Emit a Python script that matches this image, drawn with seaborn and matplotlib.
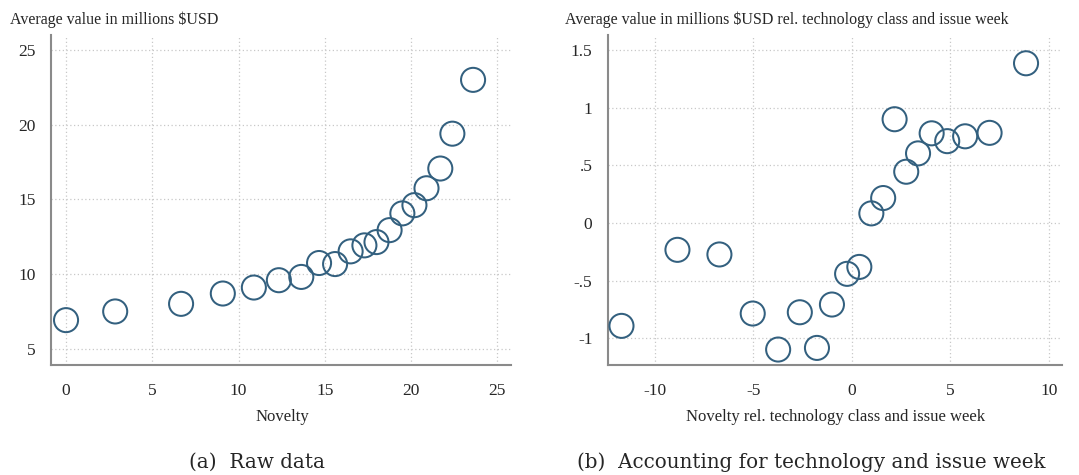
import numpy as np
import pandas as pd
import matplotlib
matplotlib.use('Agg')
import matplotlib.pyplot as plt
import seaborn as sns

# panel (a): raw data
novelty_raw = [0.0, 2.85, 6.67, 9.09, 10.89, 12.34, 13.64, 14.67, 15.6, 16.5,
               17.3, 18.0, 18.76, 19.5, 20.2, 20.9, 21.7, 22.4, 23.6]
value_raw = [6.93, 7.51, 8.02, 8.71, 9.11, 9.6, 9.82, 10.75, 10.68, 11.53,
             11.93, 12.15, 12.95, 14.07, 14.62, 15.75, 17.07, 19.4, 23.0]

# panel (b): residualised on technology class and issue week
novelty_rel = [-11.68, -8.84, -6.71, -5.02, -3.73, -2.63, -1.76, -1.0, -0.23, 0.39,
               1.0, 1.6, 2.18, 2.77, 3.37, 4.06, 4.85, 5.76, 7.0, 8.85]
value_rel = [-0.891, -0.232, -0.272, -0.784, -1.096, -0.773, -1.082, -0.706, -0.44, -0.38,
             0.084, 0.217, 0.90, 0.445, 0.604, 0.778, 0.71, 0.752, 0.782, 1.385]

xticks_a = [0, 5, 10, 15, 20, 25]
yticks_a = [5, 10, 15, 20, 25]
xticks_b = [-10, -5, 0, 5, 10]
xlabels_b = ['-10', '-5', '0', '5', '10']
yticks_b = [-1, -0.5, 0, 0.5, 1, 1.5]
ylabels_b = ['-1', '-.5', '0', '.5', '1', '1.5']

sns.set_style('white')
plt.rcParams['font.family'] = ['Liberation Serif', 'DejaVu Serif']

color = '#33607f'
grey = '#8a8a8a'

fig = plt.figure(figsize=(10.79, 4.75), dpi=100)
ax1 = fig.add_axes([0.0473, 0.2316, 0.4263, 0.6947])
ax2 = fig.add_axes([0.5632, 0.2316, 0.4215, 0.6947])

df_a = pd.DataFrame({'x': novelty_raw, 'y': value_raw})
df_b = pd.DataFrame({'x': novelty_rel, 'y': value_rel})

for ax, df in [(ax1, df_a), (ax2, df_b)]:
    sns.scatterplot(data=df, x='x', y='y', ax=ax, s=300, marker='o',
                    facecolor='none', edgecolor=color, linewidth=1.45, zorder=3)

ax1.set_xlim(-0.87, 25.8)
ax1.set_ylim(3.93, 26)
ax1.set_xticks(xticks_a)
ax1.set_yticks(yticks_a)
ax1.set_xticklabels([str(t) for t in xticks_a])
ax1.set_yticklabels([str(t) for t in yticks_a])

ax2.set_xlim(-12.38, 10.7)
ax2.set_ylim(-1.23, 1.63)
ax2.set_xticks(xticks_b)
ax2.set_xticklabels(xlabels_b)
ax2.set_yticks(yticks_b)
ax2.set_yticklabels(ylabels_b)

for ax in [ax1, ax2]:
    ax.set_xlabel('')
    ax.set_ylabel('')
    ax.grid(True, linestyle=(0, (1, 2)), color='#c8c8c8', linewidth=0.9)
    sns.despine(ax=ax)
    for sp in ['left', 'bottom']:
        ax.spines[sp].set_color(grey)
        ax.spines[sp].set_linewidth(1.5)
    ax.tick_params(axis='both', direction='out', length=5, width=1.2, color=grey,
                   labelsize=12.5)
    ax.tick_params(axis='x', pad=8)
    ax.tick_params(axis='y', pad=6)

fig.text(10 / 1079, 1 - 20 / 475, 'Average value in millions $USD', fontsize=11.5,
         ha='left', va='center')
fig.text(565 / 1079, 1 - 20 / 475,
         'Average value in millions $USD rel. technology class and issue week',
         fontsize=11.5, ha='left', va='center')
fig.text(282 / 1079, 1 - 417 / 475, 'Novelty', fontsize=12, ha='center', va='center')
fig.text(836 / 1079, 1 - 417 / 475, 'Novelty rel. technology class and issue week',
         fontsize=12, ha='center', va='center')

fig.text(257 / 1079, 1 - 462 / 475, '(a)  Raw data', fontsize=14.3, ha='center', va='center',
         family=['DejaVu Serif'])
fig.text(811 / 1079, 1 - 462 / 475, '(b)  Accounting for technology and issue week',
         fontsize=14.3, ha='center', va='center', family=['DejaVu Serif'])

fig.savefig('out.png', dpi=100)
